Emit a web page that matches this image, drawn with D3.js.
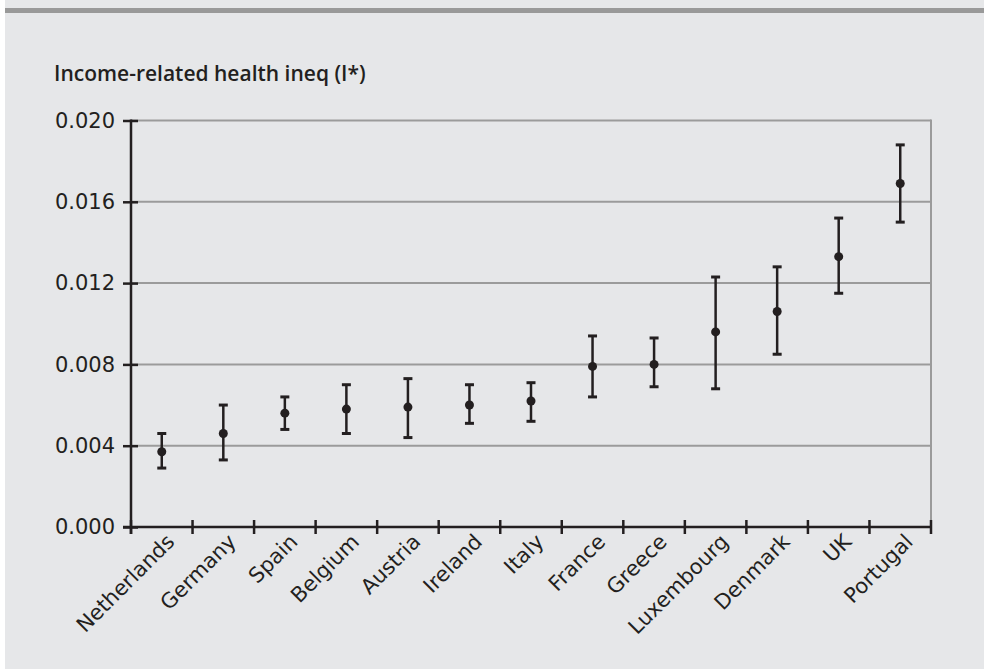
<!DOCTYPE html>
<html>
<head>
<meta charset="utf-8">
<script src="https://cdn.jsdelivr.net/npm/d3@7"></script>
<style>
  html, body { margin: 0; padding: 0; background: #ffffff; }
  svg { display: block; }
</style>
</head>
<body>
<svg id="chart" width="984" height="669"></svg>
<script>
// Income-related health inequality index (I*) with 95% confidence intervals
const countries = ["Netherlands", "Germany", "Spain", "Belgium", "Austria", "Ireland", "Italy",
                   "France", "Greece", "Luxembourg", "Denmark", "UK", "Portugal"];
const estimate = [0.0037, 0.0046, 0.0056, 0.0058, 0.0059, 0.0060, 0.0062,
                  0.0079, 0.0080, 0.0096, 0.0106, 0.0133, 0.0169];
const lower    = [0.0029, 0.0033, 0.0048, 0.0046, 0.0044, 0.0051, 0.0052,
                  0.0064, 0.0069, 0.0068, 0.0085, 0.0115, 0.0150];
const upper    = [0.0046, 0.0060, 0.0064, 0.0070, 0.0073, 0.0070, 0.0071,
                  0.0094, 0.0093, 0.0123, 0.0128, 0.0152, 0.0188];
const yTicks = [0, 0.004, 0.008, 0.012, 0.016, 0.020];
const yTitle = "Income-related health ineq (I*)";

const ink = "#231f20";
const gridColor = "#9b9b9b";
const panelColor = "#e6e7e9";

const svg = d3.select("#chart");

// panel background and header rule
svg.append("rect").attr("x", 5).attr("y", 0).attr("width", 979).attr("height", 669).attr("fill", panelColor);
svg.append("rect").attr("x", 5).attr("y", 8).attr("width", 979).attr("height", 5).attr("fill", "#999999");

const plotLeft = 131, plotRight = 931, plotTop = 120.5, plotBottom = 527;

const x = d3.scaleBand().domain(countries).range([plotLeft, plotRight]).paddingInner(0).paddingOuter(0);
const y = d3.scaleLinear().domain([0, 0.02]).range([plotBottom, plotTop]);

// horizontal gridlines (including the top frame line)
svg.append("g").selectAll("line").data(yTicks.filter(d => d > 0)).join("line")
  .attr("x1", plotLeft).attr("x2", plotRight)
  .attr("y1", d => y(d)).attr("y2", d => y(d))
  .attr("stroke", gridColor).attr("stroke-width", 2);

// right frame line
svg.append("line")
  .attr("x1", plotRight).attr("x2", plotRight).attr("y1", y(0.02) - 1).attr("y2", plotBottom)
  .attr("stroke", gridColor).attr("stroke-width", 2);

// y axis
const yAxis = d3.axisLeft(y).tickValues(yTicks).tickFormat(d3.format(".3f")).tickSize(0).tickPadding(16);
const gy = svg.append("g").attr("transform", `translate(${plotLeft},0)`).call(yAxis);
gy.select(".domain").remove();
gy.selectAll("text")
  .attr("font-family", "DejaVu Sans, sans-serif").attr("font-size", 21).attr("fill", ink);
gy.selectAll(".tick").append("line")
  .attr("x1", -8).attr("x2", 7).attr("stroke", ink).attr("stroke-width", 2.5);
svg.append("line")
  .attr("x1", plotLeft).attr("x2", plotLeft).attr("y1", plotTop - 1).attr("y2", plotBottom + 7)
  .attr("stroke", ink).attr("stroke-width", 2.5);

// x axis baseline and boundary ticks
svg.append("line")
  .attr("x1", plotLeft - 8).attr("x2", plotRight + 1).attr("y1", plotBottom).attr("y2", plotBottom)
  .attr("stroke", ink).attr("stroke-width", 2.5);
const boundaries = countries.map(c => x(c) + x.bandwidth()).concat([x(countries[0])]);
svg.append("g").selectAll("line").data(boundaries).join("line")
  .attr("x1", d => d).attr("x2", d => d)
  .attr("y1", plotBottom - 7).attr("y2", plotBottom + 7)
  .attr("stroke", ink).attr("stroke-width", 2.5);

// category labels
svg.append("g").selectAll("text").data(countries).join("text")
  .attr("transform", c => `translate(${x(c) + x.bandwidth() / 2 + 14},${plotBottom + 16}) rotate(-45)`)
  .attr("text-anchor", "end")
  .attr("font-family", "DejaVu Sans, sans-serif").attr("font-size", 21)
  .attr("fill", ink)
  .text(c => c);

// y-axis title
svg.append("text")
  .attr("x", 54).attr("y", 81)
  .attr("font-family", "Open Sans, sans-serif").attr("font-size", 21).attr("font-weight", 600)
  .attr("fill", ink)
  .text(yTitle);

// confidence intervals and point estimates
const rows = countries.map((c, i) => ({ c, est: estimate[i], lo: lower[i], hi: upper[i] }));
const g = svg.append("g");
const cx = d => x(d.c) + x.bandwidth() / 2;
g.selectAll(".ci").data(rows).join("line").attr("class", "ci")
  .attr("x1", cx).attr("x2", cx)
  .attr("y1", d => y(d.lo)).attr("y2", d => y(d.hi))
  .attr("stroke", ink).attr("stroke-width", 2.5);
["lo", "hi"].forEach(k => {
  g.selectAll(".cap-" + k).data(rows).join("line").attr("class", "cap-" + k)
    .attr("x1", d => cx(d) - 4.5).attr("x2", d => cx(d) + 4.5)
    .attr("y1", d => y(d[k])).attr("y2", d => y(d[k]))
    .attr("stroke", ink).attr("stroke-width", 3);
});
g.selectAll("circle").data(rows).join("circle")
  .attr("cx", cx).attr("cy", d => y(d.est)).attr("r", 4.5)
  .attr("fill", ink);
</script>
</body>
</html>
